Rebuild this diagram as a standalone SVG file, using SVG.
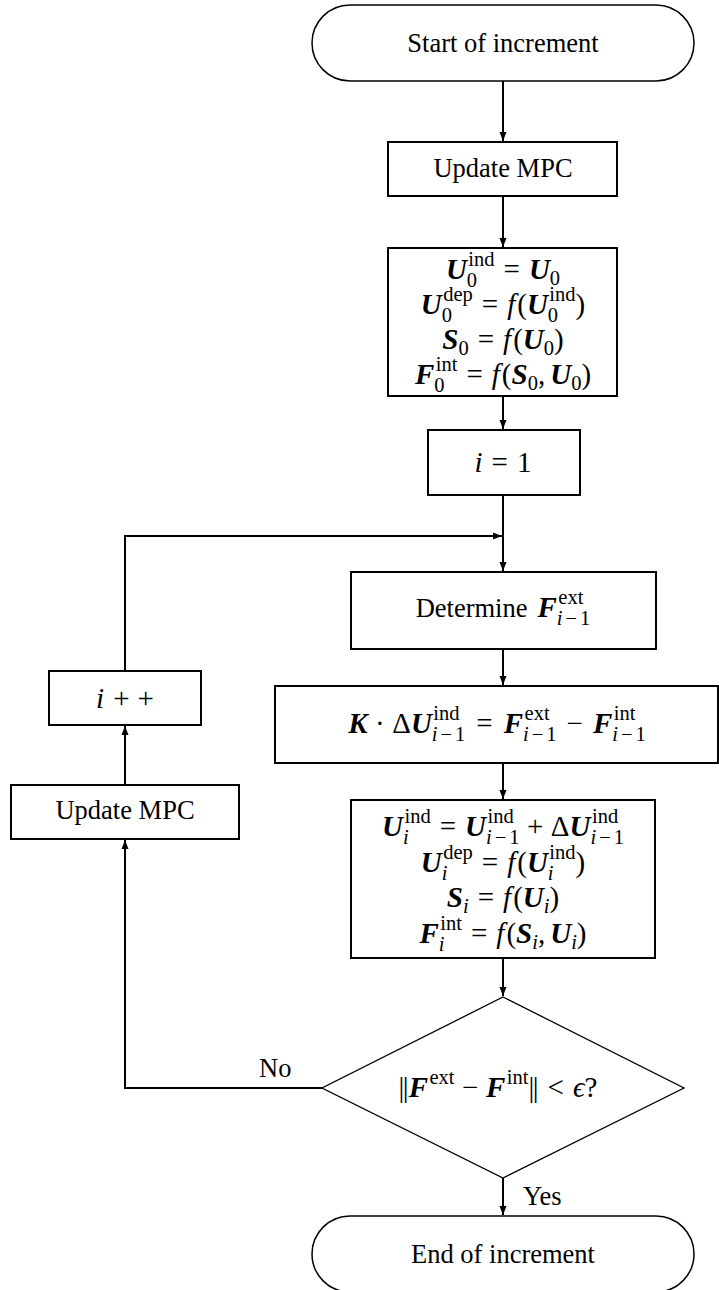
<svg xmlns="http://www.w3.org/2000/svg" width="719" height="1290" viewBox="0 0 719 1290">
<style>
.t{font-family:"Liberation Serif","DejaVu Serif",serif;font-size:26.5px;fill:#000}
.mt{font-family:"Liberation Serif","DejaVu Serif",serif;font-size:29px;fill:#000}
.m{text-anchor:middle}
.bi{font-weight:bold;font-style:italic}
.big{font-size:29px}
.it{font-style:italic}
.s{font-size:20.5px}
.box{fill:#fff;stroke:#000;stroke-width:2}
.term{fill:#fff;stroke:#000;stroke-width:1.5}
.dia{fill:#fff;stroke:#000;stroke-width:1.3}
.c{fill:none;stroke:#000;stroke-width:2}
</style>
<defs>
<marker id="ah" markerWidth="10" markerHeight="8" refX="9" refY="4" orient="auto" markerUnits="userSpaceOnUse"><path d="M0,0.5 L9,4 L0,7.5 z" fill="#000"/></marker>
</defs>
<g id="connectors">
<path class="c" d="M503,81 V141" marker-end="url(#ah)"/>
<path class="c" d="M503,196 V247" marker-end="url(#ah)"/>
<path class="c" d="M503,396 V429" marker-end="url(#ah)"/>
<path class="c" d="M503,495 V571" marker-end="url(#ah)"/>
<path class="c" d="M125,671 V536 H502" marker-end="url(#ah)"/>
<path class="c" d="M503,649 V685" marker-end="url(#ah)"/>
<path class="c" d="M503,763 V799" marker-end="url(#ah)"/>
<path class="c" d="M503,958 V996" marker-end="url(#ah)"/>
<path class="c" d="M503,1178 V1215" marker-end="url(#ah)"/>
<path class="c" d="M322,1088 H125 V840" marker-end="url(#ah)"/>
<path class="c" d="M125,785 V726" marker-end="url(#ah)"/>
<text class="t" x="259" y="1077">No</text>
<text class="t" x="523" y="1205">Yes</text>
</g>
<g id="start">
<path class="term" d="M350,5 H656 A38,38 0 0 1 656,81 H350 A38,38 0 0 1 350,5 Z"/>
<text class="t m" x="503" y="52">Start of increment</text>
</g>
<g id="update1">
<rect class="box" x="388" y="142" width="229" height="54"/>
<text class="t m" x="503" y="177">Update MPC</text>
</g>
<g id="init">
<rect class="box" x="388" y="248" width="229" height="148"/>
<text class="mt m" x="503" y="279"><tspan class="bi">U</tspan><tspan class="s" dx="1.5" dy="-13">ind</tspan><tspan class="s" dx="-27.7" dy="21">0</tspan><tspan dx="26.45" dy="-8">=</tspan><tspan class="bi" dx="9">U</tspan><tspan class="s" dy="6">0</tspan></text>
<text class="mt m" x="503" y="314"><tspan class="bi">U</tspan><tspan class="s" dx="1.5" dy="-13">dep</tspan><tspan class="s" dx="-31.1" dy="21">0</tspan><tspan dx="29.85" dy="-8">=</tspan><tspan class="it" dx="9">f</tspan><tspan dx="2">(</tspan><tspan class="bi">U</tspan><tspan class="s" dx="1.5" dy="-13">ind</tspan><tspan class="s" dx="-27.7" dy="21">0</tspan><tspan dx="17.45" dy="-8">)</tspan></text>
<text class="mt m" x="503" y="349"><tspan class="bi">S</tspan><tspan class="s" dy="6">0</tspan><tspan dx="9" dy="-6">=</tspan><tspan class="it" dx="9">f</tspan><tspan dx="2">(</tspan><tspan class="bi">U</tspan><tspan class="s" dy="6">0</tspan><tspan dy="-6">)</tspan></text>
<text class="mt m" x="503" y="384"><tspan class="bi">F</tspan><tspan class="s" dx="1.5" dy="-13">int</tspan><tspan class="s" dx="-23.15" dy="21">0</tspan><tspan dx="21.9" dy="-8">=</tspan><tspan class="it" dx="9">f</tspan><tspan dx="2">(</tspan><tspan class="bi">S</tspan><tspan class="s" dy="6">0</tspan><tspan dy="-6">,</tspan><tspan class="bi" dx="5">U</tspan><tspan class="s" dy="6">0</tspan><tspan dy="-6">)</tspan></text>
</g>
<g id="i1">
<rect class="box" x="428" y="430" width="152" height="65"/>
<text class="mt m" x="503" y="472"><tspan class="it">i</tspan><tspan dx="9">=</tspan><tspan dx="9">1</tspan></text>
</g>
<g id="determine">
<rect class="box" x="351" y="572" width="305" height="77"/>
<text class="t m" x="503" y="617"><tspan>Determine</tspan><tspan class="bi big" dx="10">F</tspan><tspan class="s" dx="1.5" dy="-13">ext</tspan><tspan class="s" dx="-26.55" dy="21"><tspan class="it">i</tspan><tspan dx="3">−</tspan><tspan dx="3">1</tspan></tspan></text>
</g>
<g id="solve">
<rect class="box" x="275" y="686" width="443" height="77"/>
<text class="mt m" x="497" y="733"><tspan class="bi">K</tspan><tspan dx="7.5">·</tspan><tspan dx="7.5">Δ</tspan><tspan class="bi">U</tspan><tspan class="s" dx="1.5" dy="-13">ind</tspan><tspan class="s" dx="-27.7" dy="21"><tspan class="it">i</tspan><tspan dx="3">−</tspan><tspan dx="3">1</tspan></tspan><tspan dx="11" dy="-8">=</tspan><tspan class="bi" dx="11">F</tspan><tspan class="s" dx="1.5" dy="-13">ext</tspan><tspan class="s" dx="-26.55" dy="21"><tspan class="it">i</tspan><tspan dx="3">−</tspan><tspan dx="3">1</tspan></tspan><tspan dx="10" dy="-8">−</tspan><tspan class="bi" dx="10">F</tspan><tspan class="s" dx="1.5" dy="-13">int</tspan><tspan class="s" dx="-23.15" dy="21"><tspan class="it">i</tspan><tspan dx="3">−</tspan><tspan dx="3">1</tspan></tspan></text>
</g>
<g id="update_state">
<rect class="box" x="351" y="800" width="304" height="158"/>
<text class="mt m" x="503" y="836"><tspan class="bi">U</tspan><tspan class="s" dx="1.5" dy="-13">ind</tspan><tspan class="s it" dx="-27.7" dy="21">i</tspan><tspan dx="31" dy="-8">=</tspan><tspan class="bi" dx="9">U</tspan><tspan class="s" dx="1.5" dy="-13">ind</tspan><tspan class="s" dx="-27.7" dy="21"><tspan class="it">i</tspan><tspan dx="3">−</tspan><tspan dx="3">1</tspan></tspan><tspan dx="7.5" dy="-8">+</tspan><tspan dx="7.5">Δ</tspan><tspan class="bi">U</tspan><tspan class="s" dx="1.5" dy="-13">ind</tspan><tspan class="s" dx="-27.7" dy="21"><tspan class="it">i</tspan><tspan dx="3">−</tspan><tspan dx="3">1</tspan></tspan></text>
<text class="mt m" x="503" y="872"><tspan class="bi">U</tspan><tspan class="s" dx="1.5" dy="-13">dep</tspan><tspan class="s it" dx="-31.1" dy="21">i</tspan><tspan dx="34.4" dy="-8">=</tspan><tspan class="it" dx="9">f</tspan><tspan dx="2">(</tspan><tspan class="bi">U</tspan><tspan class="s" dx="1.5" dy="-13">ind</tspan><tspan class="s it" dx="-27.7" dy="21">i</tspan><tspan dx="22" dy="-8">)</tspan></text>
<text class="mt m" x="503" y="907"><tspan class="bi">S</tspan><tspan class="s it" dy="6">i</tspan><tspan dx="9" dy="-6">=</tspan><tspan class="it" dx="9">f</tspan><tspan dx="2">(</tspan><tspan class="bi">U</tspan><tspan class="s it" dy="6">i</tspan><tspan dy="-6">)</tspan></text>
<text class="mt m" x="503" y="943"><tspan class="bi">F</tspan><tspan class="s" dx="1.5" dy="-13">int</tspan><tspan class="s it" dx="-23.15" dy="21">i</tspan><tspan dx="26.45" dy="-8">=</tspan><tspan class="it" dx="9">f</tspan><tspan dx="2">(</tspan><tspan class="bi">S</tspan><tspan class="s it" dy="6">i</tspan><tspan dy="-6">,</tspan><tspan class="bi" dx="5">U</tspan><tspan class="s it" dy="6">i</tspan><tspan dy="-6">)</tspan></text>
</g>
<g id="check">
<path class="dia" d="M503,997 L684,1088 L503,1178 L322,1088 Z"/>
<text class="mt m" x="498" y="1097"><tspan>|</tspan><tspan dx="-1.5">|</tspan><tspan class="bi">F</tspan><tspan class="s" dx="1.5" dy="-13">ext</tspan><tspan dx="7.5" dy="13">−</tspan><tspan class="bi" dx="7.5">F</tspan><tspan class="s" dx="1.5" dy="-13">int</tspan><tspan dy="13">|</tspan><tspan dx="-1.5">|</tspan><tspan dx="9">&lt;</tspan><tspan class="it" dx="9">ϵ</tspan><tspan>?</tspan></text>
</g>
<g id="iplus">
<rect class="box" x="49" y="671" width="152" height="54"/>
<text class="mt m" x="125" y="708"><tspan class="it">i</tspan><tspan dx="9">+</tspan><tspan dx="8">+</tspan></text>
</g>
<g id="update2">
<rect class="box" x="11" y="785" width="228" height="54"/>
<text class="t m" x="125" y="819">Update MPC</text>
</g>
<g id="end">
<path class="term" d="M350,1216 H656 A38,38 0 0 1 656,1292 H350 A38,38 0 0 1 350,1216 Z"/>
<text class="t m" x="503" y="1263">End of increment</text>
</g>
</svg>
